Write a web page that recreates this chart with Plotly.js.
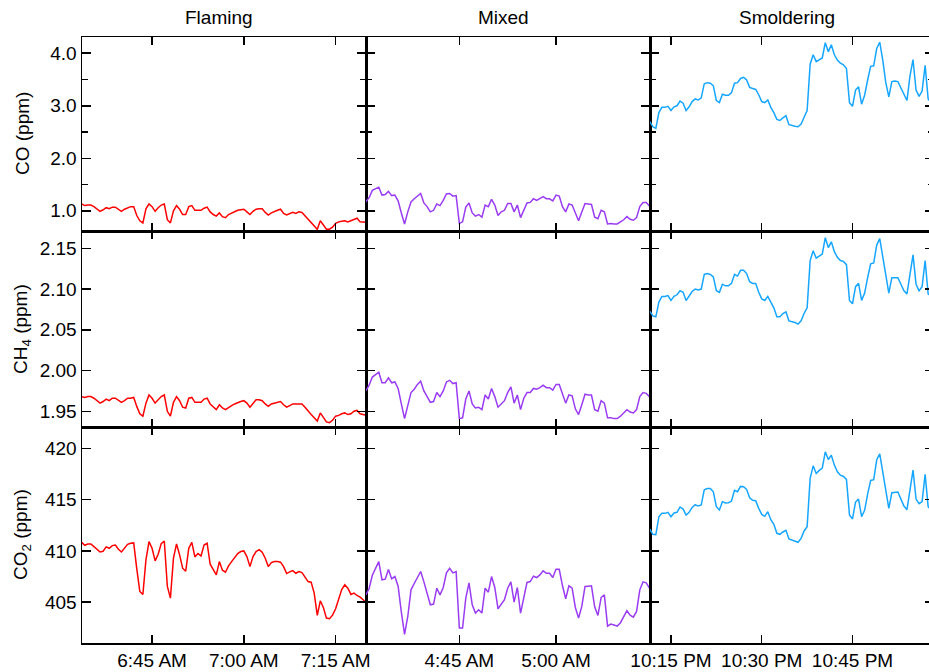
<!DOCTYPE html>
<html>
<head>
<meta charset="utf-8">
<script src="https://cdn.plot.ly/plotly-3.0.1.min.js"></script>
<style>
  html, body { margin: 0; padding: 0; overflow: hidden; background: #ffffff; }
  #chart { width: 940px; height: 672px; }
</style>
</head>
<body>
<div id="chart"></div>
<script>
// ---- Data ----
const columnTitles = ["Flaming", "Mixed", "Smoldering"];
const rowTitles = ["CO (ppm)", "CH<sub>4</sub> (ppm)", "CO<sub>2</sub> (ppm)"];
const sampleStepSeconds = 30;

const flamingStart = "06:33:30";
const mixedStart = "04:30:30";
const smolderingStart = "22:11:30";

const flamingCO = [1.13,1.10,1.11,1.11,1.08,1.04,0.99,1.02,1.06,1.04,
1.07,1.07,1.03,0.99,1.03,1.06,1.08,1.08,0.91,0.81,
0.77,1.04,1.13,1.08,0.99,1.06,1.11,1.13,0.83,0.77,
1.00,1.10,1.03,0.93,0.93,1.08,1.10,1.01,1.01,1.01,
1.05,1.07,0.98,0.93,0.90,0.96,0.89,0.87,0.93,0.96,
0.99,1.01,1.02,1.03,0.98,0.93,0.99,1.03,1.04,1.04,
0.97,0.92,0.96,0.99,1.01,1.03,0.95,0.92,0.94,0.97,
0.95,0.98,0.97,0.91,0.84,0.79,0.72,0.65,0.81,0.73,
0.65,0.65,0.69,0.76,0.79,0.80,0.81,0.79,0.81,0.84,
0.86,0.79,0.78,0.78];
const flamingCH4 = [1.968,1.967,1.968,1.968,1.966,1.963,1.960,1.962,1.965,1.963,
1.966,1.966,1.963,1.961,1.963,1.966,1.966,1.967,1.956,1.947,
1.944,1.960,1.970,1.966,1.960,1.964,1.968,1.970,1.950,1.944,
1.961,1.968,1.963,1.955,1.954,1.966,1.967,1.961,1.961,1.961,
1.965,1.966,1.959,1.955,1.952,1.958,1.954,1.952,1.955,1.957,
1.959,1.961,1.962,1.963,1.960,1.955,1.960,1.964,1.964,1.963,
1.959,1.956,1.959,1.960,1.961,1.962,1.958,1.955,1.957,1.959,
1.959,1.959,1.959,1.955,1.950,1.946,1.942,1.938,1.948,1.943,
1.937,1.936,1.939,1.944,1.945,1.947,1.948,1.946,1.947,1.950,
1.951,1.947,1.946,1.945];
const flamingCO2 = [410.84,410.55,410.68,410.68,410.42,410.13,409.90,409.97,410.39,410.26,
410.52,410.58,410.16,409.90,410.23,410.65,410.75,410.78,408.28,406.04,
405.75,409.12,410.91,410.26,409.03,409.68,410.71,410.97,406.53,405.39,
409.29,410.68,409.61,408.31,408.02,410.26,410.84,409.42,409.74,409.51,
410.58,410.75,408.70,408.21,407.66,408.96,408.12,407.92,408.54,408.96,
409.38,409.74,409.94,410.00,409.45,408.47,409.45,409.94,410.13,409.87,
409.29,408.47,408.86,408.96,408.96,408.90,408.47,407.79,407.95,408.08,
407.82,407.99,407.89,407.47,407.01,406.95,405.88,403.70,405.13,404.48,
403.44,403.38,403.73,404.35,405.39,406.23,406.69,406.36,405.75,405.88,
405.65,405.49,405.23,404.90];

const mixedCO = [1.17,1.25,1.39,1.42,1.45,1.30,1.31,1.37,1.29,1.30,
1.19,0.96,0.75,0.98,1.17,1.23,1.28,1.33,1.15,1.08,
0.98,1.01,1.13,1.10,1.20,1.32,1.33,1.28,1.29,0.76,
0.79,1.07,1.15,0.96,0.90,0.93,0.88,1.11,1.08,1.22,
1.11,0.91,0.98,1.01,1.14,1.14,0.98,1.11,0.87,1.02,
1.15,1.16,1.23,1.20,1.23,1.27,1.23,1.23,1.19,1.30,
1.28,1.08,0.98,1.13,1.11,0.95,0.81,0.98,1.14,1.13,
1.12,0.88,0.85,1.01,0.98,0.75,0.76,0.75,0.75,0.79,
0.83,0.89,0.84,0.82,0.87,1.08,1.16,1.16,1.09];
const mixedCH4 = [1.975,1.982,1.992,1.995,1.998,1.985,1.985,1.991,1.985,1.986,
1.978,1.959,1.941,1.957,1.973,1.977,1.983,1.987,1.975,1.968,
1.961,1.962,1.973,1.968,1.975,1.986,1.988,1.984,1.985,1.941,
1.942,1.965,1.975,1.959,1.954,1.955,1.952,1.970,1.965,1.978,
1.968,1.955,1.959,1.963,1.973,1.980,1.960,1.970,1.952,1.966,
1.973,1.973,1.978,1.977,1.979,1.982,1.979,1.979,1.976,1.983,
1.983,1.971,1.960,1.970,1.969,1.953,1.946,1.958,1.971,1.970,
1.970,1.952,1.950,1.963,1.960,1.942,1.942,1.941,1.941,1.944,
1.948,1.952,1.949,1.948,1.952,1.968,1.973,1.972,1.968];
const mixedCO2 = [405.71,406.33,407.63,408.38,408.96,407.18,407.24,408.18,407.27,407.50,
406.56,404.03,401.85,403.60,406.20,406.82,407.34,407.99,406.98,405.71,
404.74,404.81,406.36,405.71,406.43,407.86,408.31,407.86,407.99,402.47,
402.47,405.39,406.88,404.74,403.93,404.25,403.93,406.36,405.97,407.50,
406.43,404.35,404.74,405.23,406.36,406.98,405.00,406.43,403.93,405.45,
406.92,407.01,407.53,407.40,407.66,408.05,407.82,407.82,407.40,408.21,
408.21,406.62,405.32,406.59,406.36,404.48,403.44,404.58,406.53,406.56,
406.59,404.55,403.70,405.45,405.71,402.66,402.86,402.76,402.66,402.99,
403.60,404.16,403.73,403.54,404.09,406.20,406.98,406.88,406.36];

const smolderingCO = [2.70,2.60,2.57,2.87,2.97,2.97,2.99,2.91,2.98,3.00,
3.09,3.05,2.91,2.98,3.08,3.13,3.11,3.15,3.42,3.44,
3.43,3.38,3.10,3.06,3.22,3.20,3.20,3.25,3.43,3.44,
3.52,3.54,3.49,3.35,3.33,3.31,3.21,3.08,3.06,3.11,
2.97,2.87,2.74,2.72,2.77,2.81,2.64,2.62,2.61,2.60,
2.65,2.78,2.91,3.79,3.97,3.84,3.88,3.91,4.20,4.03,
4.16,3.97,3.87,3.81,3.78,3.71,3.06,2.99,3.30,3.36,
3.03,3.20,3.49,3.75,3.76,4.09,4.21,3.87,3.44,3.17,
3.46,3.47,3.46,3.33,3.21,3.10,3.57,3.88,3.30,3.18,
3.28,3.77,3.13,3.06];
const smolderingCH4 = [2.073,2.067,2.066,2.084,2.091,2.091,2.092,2.086,2.091,2.093,
2.098,2.096,2.086,2.091,2.097,2.100,2.099,2.100,2.118,2.119,
2.118,2.115,2.098,2.096,2.106,2.104,2.104,2.107,2.118,2.116,
2.123,2.123,2.119,2.109,2.107,2.107,2.096,2.088,2.086,2.091,
2.083,2.077,2.066,2.066,2.070,2.072,2.061,2.060,2.059,2.057,
2.061,2.070,2.077,2.135,2.147,2.138,2.141,2.143,2.163,2.151,
2.158,2.146,2.139,2.135,2.134,2.130,2.086,2.082,2.103,2.107,
2.086,2.095,2.114,2.131,2.132,2.154,2.162,2.139,2.113,2.095,
2.114,2.114,2.114,2.106,2.098,2.094,2.120,2.142,2.106,2.098,
2.103,2.135,2.094,2.091];
const smolderingCO2 = [412.14,411.62,411.59,413.34,413.67,413.67,413.77,413.34,413.70,413.77,
414.29,414.09,413.51,413.77,414.25,414.51,414.38,414.48,415.97,416.10,
416.10,415.78,414.32,414.00,414.81,414.68,414.71,414.87,415.91,415.78,
416.30,416.27,416.01,415.19,414.94,414.90,414.16,413.57,413.38,413.83,
413.05,412.60,411.72,411.62,411.85,412.01,411.17,411.07,410.97,410.84,
411.23,411.95,412.37,417.08,418.31,417.56,417.86,418.08,419.68,418.93,
419.35,418.38,417.73,417.40,417.27,416.98,413.51,413.12,414.77,415.06,
413.34,413.96,415.55,416.88,416.95,418.90,419.48,417.73,415.62,414.16,
415.68,415.68,415.75,415.06,414.38,414.03,416.10,417.89,415.06,414.61,
414.81,417.47,414.32,414.00];

// Visible time windows for each column
const flamingRange = ["2000-01-01 06:33:33", "2000-01-01 07:19:58"];
const mixedRange = ["2000-01-01 04:30:31", "2000-01-01 05:14:35"];
const smolderingRange = ["2000-01-01 22:11:32", "2000-01-01 22:58:28"];

const yRanges = [[0.616, 4.309], [1.9307, 2.1713], [401.01, 422.10]];

// ---- Build ----
function pad(n) { return String(n).padStart(2, "0"); }
function timeAxis(start, n, step) {
  const p = start.split(":").map(Number);
  const t0 = p[0] * 3600 + p[1] * 60 + p[2];
  const out = [];
  for (let i = 0; i < n; i++) {
    const t = t0 + i * step;
    out.push("2000-01-01 " + pad(Math.floor(t / 3600)) + ":" + pad(Math.floor((t % 3600) / 60)) + ":" + pad(t % 60));
  }
  return out;
}

const columns = [
  { start: flamingStart, range: flamingRange, color: "#ff0000", series: [flamingCO, flamingCH4, flamingCO2] },
  { start: mixedStart, range: mixedRange, color: "#9a3cf2", series: [mixedCO, mixedCH4, mixedCO2] },
  { start: smolderingStart, range: smolderingRange, color: "#16a6ff", series: [smolderingCO, smolderingCH4, smolderingCO2] }
];

const FONT = "Liberation Sans, Arial, Helvetica, sans-serif";
const FS = 19;

// layout geometry (pixels): plot area rows 37..231..427..643
const W = 940, H = 672, ML = 82, MR = 6, MT = 37, MB = 29;
const plotH = H - MT - MB;
const plotW = W - ML - MR;
function ypos(px) { return (643 - px) / plotH; }
const rowDomains = [
  [ypos(231), 1],
  [ypos(427), ypos(231)],
  [0, ypos(427)]
];
const colDomains = [[0, 1/3], [1/3, 2/3], [2/3, 1]];
const titleShiftPx = -5;

const traces = [];
const layout = {
  width: W, height: H,
  margin: { l: ML, r: MR, t: MT, b: MB, pad: 0 },
  paper_bgcolor: "#ffffff", plot_bgcolor: "#ffffff",
  showlegend: false,
  font: { family: FONT, size: FS, color: "#000000" },
  annotations: []
};

for (let r = 0; r < 3; r++) {
  for (let c = 0; c < 3; c++) {
    const n = r * 3 + c + 1;
    const xa = n === 1 ? "x" : "x" + n;
    const ya = n === 1 ? "y" : "y" + n;
    const col = columns[c];
    const ys = col.series[r];
    traces.push({
      type: "scatter", mode: "lines",
      x: timeAxis(col.start, ys.length, sampleStepSeconds),
      y: ys,
      xaxis: xa, yaxis: ya,
      line: { color: col.color, width: 1.5 },
      hoverinfo: "skip"
    });
    const xKey = n === 1 ? "xaxis" : "xaxis" + n;
    const yKey = n === 1 ? "yaxis" : "yaxis" + n;
    layout[xKey] = {
      type: "date",
      domain: colDomains[c],
      anchor: ya,
      range: col.range,
      tick0: "2000-01-01 00:00:00",
      dtick: 15 * 60 * 1000,
      tickformat: "%-I:%M %p",
      ticks: "inside", ticklen: 8, tickwidth: 1.5, tickcolor: "#000",
      showline: true, linecolor: "#000", linewidth: 1.5,
      mirror: "ticks",
      showgrid: false, zeroline: false,
      showticklabels: r === 2,
      tickfont: { family: FONT, size: FS, color: "#000" },
      fixedrange: true
    };
    const yax = {
      domain: rowDomains[r],
      anchor: xa,
      range: yRanges[r],
      ticks: "inside", ticklen: 9, tickwidth: 1.5, tickcolor: "#000",
      showline: true, linecolor: "#000", linewidth: 1.5,
      mirror: "ticks",
      showgrid: false, zeroline: false,
      showticklabels: c === 0,
      tickfont: { family: FONT, size: FS, color: "#000" },
      fixedrange: true
    };
    if (r === 0) {
      yax.tick0 = 0; yax.dtick = 1; yax.tickformat = ".1f";
      yax.minor = { tick0: 0, dtick: 0.5, ticks: "inside", ticklen: 6, tickwidth: 1.5, tickcolor: "#000", showgrid: false };
    } else if (r === 1) {
      yax.tick0 = 0; yax.dtick = 0.05; yax.tickformat = ".2f";
    } else {
      yax.tick0 = 0; yax.dtick = 5; yax.tickformat = "d";
    }
    layout[yKey] = yax;
  }
}

// row titles (rotated), all at the same horizontal position
for (let r = 0; r < 3; r++) {
  layout.annotations.push({
    text: rowTitles[r],
    xref: "paper", yref: "paper",
    x: (22 - ML) / plotW,
    y: (rowDomains[r][0] + rowDomains[r][1]) / 2,
    xanchor: "center", yanchor: "middle",
    textangle: -90,
    showarrow: false,
    font: { family: FONT, size: FS, color: "#000" }
  });
}

for (let c = 0; c < 3; c++) {
  layout.annotations.push({
    text: columnTitles[c],
    xref: "paper", yref: "paper",
    x: (colDomains[c][0] + colDomains[c][1]) / 2 + titleShiftPx / plotW,
    y: 1 + (MT - 17) / plotH,
    xanchor: "center", yanchor: "middle",
    showarrow: false,
    font: { family: FONT, size: FS, color: "#000" }
  });
}

Plotly.newPlot("chart", traces, layout, { staticPlot: true, displayModeBar: false });
</script>
</body>
</html>
